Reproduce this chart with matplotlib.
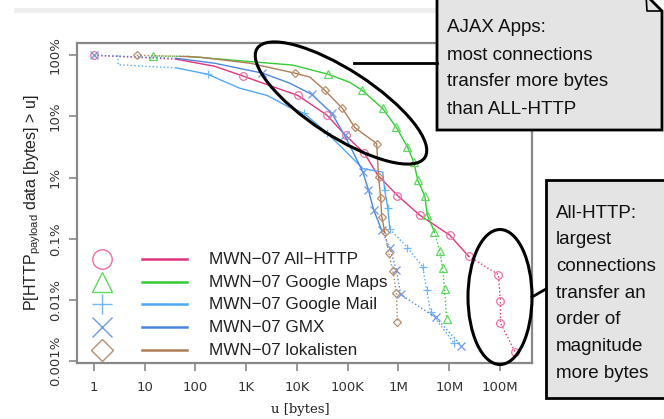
import matplotlib
matplotlib.use("Agg")
import matplotlib.pyplot as plt
from matplotlib.patches import Ellipse, Polygon, Rectangle

# CCDF of HTTP payload bytes per connection
names = ["MWN\u221207 All\u2212HTTP", "MWN\u221207 Google Maps",
         "MWN\u221207 Google Mail", "MWN\u221207 GMX", "MWN\u221207 lokalisten"]

all_u = [1, 43, 240, 850, 2900, 10500, 39000, 91000, 214000, 390000, 955000,
         2.6e6, 1.02e7, 2.4e7, 9.3e7, 1.02e8, 1.02e8, 2.0e8]
all_p = [100, 86, 66, 46, 32, 22, 10.5, 4.9, 2.5, 1.1, 0.51,
         0.245, 0.115, 0.052, 0.026, 0.0095, 0.0042, 0.0014]

maps_u = [15, 68, 550, 8300, 41000, 110000, 190000, 490000, 910000, 1.5e6,
          2.0e6, 2.4e6, 3.3e6, 3.7e6, 5.1e6, 6.5e6, 7.4e6, 8.1e6, 8.9e6]
maps_p = [97, 96, 83, 69, 49, 36, 27, 13.5, 6.6, 3.2,
          1.8, 0.91, 0.5, 0.245, 0.13, 0.063, 0.033, 0.015, 0.0049]

mail_u = [3, 3, 43, 174, 740, 2600, 7200, 14000, 39000, 95000, 200000,
          490000, 537000, 617000, 676000, 1.5e6, 3.0e6, 3.6e6, 4.3e6, 1.23e7]
mail_p = [100, 70, 62, 49, 29, 22, 14, 11.2, 5.4, 2.6, 1.4,
          1.23, 0.62, 0.32, 0.145, 0.072, 0.035, 0.0145, 0.0063, 0.002]

gmx_u = [1, 43, 240, 2100, 7200, 19500, 49000, 87000, 138000, 200000,
         257000, 324000, 468000, 676000, 912000, 1.1e6, 5.4e6, 1.74e7]
gmx_p = [100, 89, 74, 51, 35, 23, 11.2, 4.9, 2.3, 1.23,
         0.62, 0.30, 0.138, 0.071, 0.031, 0.0123, 0.0052, 0.0018]

loka_u = [7, 49, 123, 1200, 9100, 18000, 35000, 79000, 138000, 224000,
          372000, 407000, 447000, 468000, 537000, 646000, 776000, 912000, 955000]
loka_p = [100, 96, 93, 74, 51, 44, 27, 13.5, 6.6, 4.9,
          3.6, 1.02, 0.46, 0.23, 0.13, 0.058, 0.030, 0.0129, 0.0044]

xtick_vals = [1, 10, 100, 1e3, 1e4, 1e5, 1e6, 1e7, 1e8]
xtick_labels = ["1", "10", "100", "1K", "10K", "100K", "1M", "10M", "100M"]
ytick_vals = [100, 10, 1, 0.1, 0.01, 0.001]
ytick_labels = ["100%", "10%", "1%", "0.1%", "0.01%", "0.001%"]

ajax_note = ["AJAX Apps:", "most connections", "transfer more bytes", "than ALL-HTTP"]
http_note = ["All-HTTP:", "largest", "connections", "transfer an", "order of",
             "magnitude", "more bytes"]

# style: line colour, marker colour, marker, where solid part starts / ends, marked points
styles = [
    ("#e2337d", "#ec6fa2", "o", 1, 13, [0, 3, 5, 6, 7, 8, 10, 11, 12, 13, 14, 15, 16, 17]),
    ("#33cc33", "#5fd85f", "^", 1, 14, [0, 4, 6, 7, 8, 9, 10, 11, 12, 13, 14, 15, 16, 17, 18]),
    ("#4fa9f5", "#6db8f7", "+", 2, 14, [3, 7, 8, 12, 13, 14, 15, 16, 17, 18, 19]),
    ("#4a86e0", "#6f9ae6", "x", 1, 12, [0, 3, 5, 6, 7, 9, 10, 11, 12, 13, 14, 15, 16, 17]),
    ("#b07e56", "#b98e6e", "D", 1, 14, [0, 4, 6, 7, 8, 10, 11, 12, 13, 14, 15, 16, 17, 18]),
]
data = [(all_u, all_p), (maps_u, maps_p), (mail_u, mail_p), (gmx_u, gmx_p), (loka_u, loka_p)]

plt.rcParams["font.family"] = "DejaVu Sans"
fig = plt.figure(figsize=(6.64, 4.19), dpi=100)
ax = fig.add_axes([77 / 664, 1 - 363 / 419, 455 / 664, 320 / 419])

for (u, p), (col, mcol, mk, head, tail, marks) in zip(data, styles):
    ax.plot(u[:head + 1], p[:head + 1], ls=":", color=col, lw=1.0)
    ax.plot(u[head:tail + 1], p[head:tail + 1], ls="-", color=col, lw=1.0)
    ax.plot(u[tail:], p[tail:], ls=":", color=col, lw=1.0)
    ms = 4 if mk == "D" else 5.5
    ax.plot([u[i] for i in marks], [p[i] for i in marks], ls="none", marker=mk,
            ms=ms, mfc="none", mec=mcol, mew=0.9)

ax.set_xscale("log")
ax.set_yscale("log")
ax.set_xlim(10 ** -0.33, 10 ** 8.63)
ax.set_ylim(10 ** -3.03, 10 ** 2.2)
ax.set_xticks(xtick_vals)
ax.set_xticklabels(xtick_labels)
ax.set_yticks(ytick_vals)
ax.set_yticklabels(ytick_labels, rotation=90, va="center")
ax.minorticks_off()
ax.tick_params(length=6, width=1.2, color="#888888", labelsize=9.5, labelcolor="#333333")
ax.tick_params(axis="x", pad=7)
ax.tick_params(axis="y", pad=5)
for s in ax.spines.values():
    s.set_color("#888888")
    s.set_linewidth(1.6)

# overlay in pixel coordinates for labels, legend and callouts
ov = fig.add_axes([0, 0, 1, 1], zorder=10)
ov.set_xlim(0, 664)
ov.set_ylim(419, 0)
ov.axis("off")
ov.patch.set_visible(False)

ov.add_patch(Rectangle((14, 8), 423, 5, fc="#eeeeee", ec="none"))

ov.text(33, 203, r"P[HTTP$_{\mathregular{payload}}$ data [bytes] > u]", rotation=90,
        ha="center", va="center", fontsize=11.5, family="Liberation Sans", color="#222222")
ov.text(300, 409, "u [bytes]", ha="center", va="center", fontsize=9.5,
        family="DejaVu Serif", color="#222222")

# legend
leg_y = [259, 282, 304, 327, 350]
for (col, mcol, mk, head, tail, marks), name, y in zip(styles, names, leg_y):
    ms = 11 if mk == "D" else 14
    ov.plot([102], [y], marker=mk, ms=ms, mfc="none", mec=mcol, mew=1.0)
    ov.plot([142, 187], [y, y], color=col, lw=1.8)
    ov.text(209, y, name, ha="left", va="center", fontsize=12.3,
            family="Liberation Sans", color="#222222")

# callout 1
ov.add_patch(Ellipse((341, 103), 200, 66, angle=33, fill=False, ec="black", lw=2.2))
ov.plot([354, 437], [63, 63], color="black", lw=2)
ov.add_patch(Polygon([(437, -5), (646, -5), (662, 11), (662, 130), (437, 130)],
                     closed=True, fc="#e4e4e4", ec="black", lw=2))
ov.plot([646, 647, 662], [-5, 11, 11], color="black", lw=1.2)
for i, line in enumerate(ajax_note):
    ov.text(447, 28 + 27 * i, line, ha="left", va="center", fontsize=13.5,
            family="Liberation Sans", color="#111111")

# callout 2
ov.add_patch(Ellipse((500, 297), 64, 135, fill=False, ec="black", lw=2.2))
ov.plot([532, 546], [297, 289], color="black", lw=2)
ov.add_patch(Rectangle((546, 180), 140, 218, fc="#e4e4e4", ec="black", lw=2))
for i, line in enumerate(http_note):
    ov.text(556, 213 + 26.7 * i, line, ha="left", va="center", fontsize=13.5,
            family="Liberation Sans", color="#111111")

fig.savefig("out.png", dpi=100)
